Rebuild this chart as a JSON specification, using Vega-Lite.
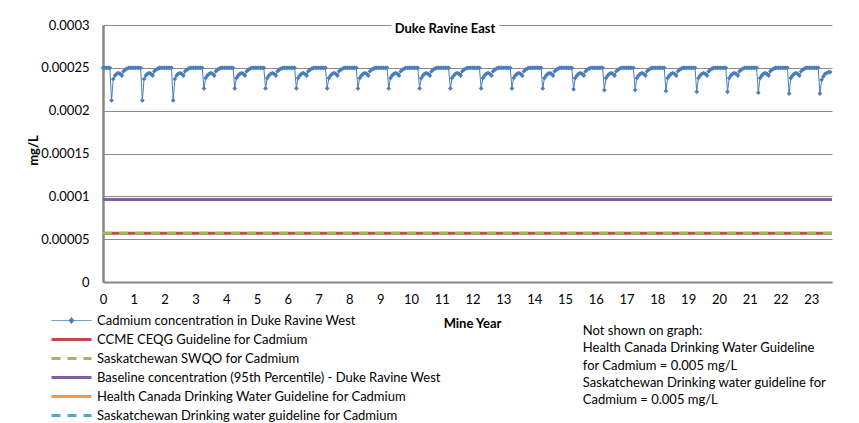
{
  "$schema": "https://vega.github.io/schema/vega-lite/v6.json",
  "width": 729,
  "height": 257,
  "autosize": {"type": "none"},
  "padding": {"left": 103, "top": 25, "right": 27, "bottom": 141},
  "background": "white",
  "title": {"text": "Duke Ravine East", "font": "Lato", "fontSize": 13, "fontWeight": "bold", "color": "#000000", "anchor": "middle", "baseline": "middle", "offset": -23, "dx": -22.5},
  "config": {
    "font": "Lato",
    "view": {"stroke": null},
    "axis": {"labelFont": "Lato", "labelFontSize": 13, "labelColor": "#000000", "titleFont": "Lato", "titleFontSize": 13, "titleColor": "#000000", "titleFontWeight": "bold", "domainColor": "#868686", "ticks": false, "gridColor": "#8c8c8c", "gridWidth": 1, "labelOverlap": false}
  },
  "datasets": {
    "cadmium": [
{"t":0,"v":0.00025},{"t":0.056,"v":0.00025},{"t":0.111,"v":0.00025},{"t":0.167,"v":0.00025},{"t":0.222,"v":0.00025},{"t":0.278,"v":0.000212},{"t":0.333,"v":0.000237},{"t":0.389,"v":0.000241},{"t":0.444,"v":0.000243},{"t":0.5,"v":0.000244},{"t":0.556,"v":0.000243},{"t":0.611,"v":0.000241},{"t":0.667,"v":0.000246},{"t":0.722,"v":0.000248},{"t":0.778,"v":0.000249},{"t":0.833,"v":0.00025},{"t":0.889,"v":0.00025},{"t":0.944,"v":0.00025},
{"t":1,"v":0.00025},{"t":1.056,"v":0.00025},{"t":1.111,"v":0.00025},{"t":1.167,"v":0.00025},{"t":1.222,"v":0.00025},{"t":1.278,"v":0.000212},{"t":1.333,"v":0.000237},{"t":1.389,"v":0.000241},{"t":1.444,"v":0.000243},{"t":1.5,"v":0.000244},{"t":1.556,"v":0.000243},{"t":1.611,"v":0.000241},{"t":1.667,"v":0.000246},{"t":1.722,"v":0.000248},{"t":1.778,"v":0.000249},{"t":1.833,"v":0.00025},{"t":1.889,"v":0.00025},{"t":1.944,"v":0.00025},
{"t":2,"v":0.00025},{"t":2.056,"v":0.00025},{"t":2.111,"v":0.00025},{"t":2.167,"v":0.00025},{"t":2.222,"v":0.00025},{"t":2.278,"v":0.000212},{"t":2.333,"v":0.000237},{"t":2.389,"v":0.000241},{"t":2.444,"v":0.000243},{"t":2.5,"v":0.000244},{"t":2.556,"v":0.000243},{"t":2.611,"v":0.000241},{"t":2.667,"v":0.000246},{"t":2.722,"v":0.000248},{"t":2.778,"v":0.000249},{"t":2.833,"v":0.00025},{"t":2.889,"v":0.00025},{"t":2.944,"v":0.00025},
{"t":3,"v":0.00025},{"t":3.056,"v":0.00025},{"t":3.111,"v":0.00025},{"t":3.167,"v":0.00025},{"t":3.222,"v":0.00025},{"t":3.278,"v":0.000226},{"t":3.333,"v":0.000238},{"t":3.389,"v":0.000241},{"t":3.444,"v":0.000243},{"t":3.5,"v":0.000244},{"t":3.556,"v":0.000243},{"t":3.611,"v":0.000241},{"t":3.667,"v":0.000246},{"t":3.722,"v":0.000248},{"t":3.778,"v":0.000249},{"t":3.833,"v":0.00025},{"t":3.889,"v":0.00025},{"t":3.944,"v":0.00025},
{"t":4,"v":0.00025},{"t":4.056,"v":0.00025},{"t":4.111,"v":0.00025},{"t":4.167,"v":0.00025},{"t":4.222,"v":0.00025},{"t":4.278,"v":0.000226},{"t":4.333,"v":0.000238},{"t":4.389,"v":0.000241},{"t":4.444,"v":0.000243},{"t":4.5,"v":0.000244},{"t":4.556,"v":0.000243},{"t":4.611,"v":0.000241},{"t":4.667,"v":0.000246},{"t":4.722,"v":0.000248},{"t":4.778,"v":0.000249},{"t":4.833,"v":0.00025},{"t":4.889,"v":0.00025},{"t":4.944,"v":0.00025},
{"t":5,"v":0.00025},{"t":5.056,"v":0.00025},{"t":5.111,"v":0.00025},{"t":5.167,"v":0.00025},{"t":5.222,"v":0.00025},{"t":5.278,"v":0.000226},{"t":5.333,"v":0.000238},{"t":5.389,"v":0.000241},{"t":5.444,"v":0.000243},{"t":5.5,"v":0.000244},{"t":5.556,"v":0.000243},{"t":5.611,"v":0.000241},{"t":5.667,"v":0.000246},{"t":5.722,"v":0.000248},{"t":5.778,"v":0.000249},{"t":5.833,"v":0.00025},{"t":5.889,"v":0.00025},{"t":5.944,"v":0.00025},
{"t":6,"v":0.00025},{"t":6.056,"v":0.00025},{"t":6.111,"v":0.00025},{"t":6.167,"v":0.00025},{"t":6.222,"v":0.00025},{"t":6.278,"v":0.000226},{"t":6.333,"v":0.000238},{"t":6.389,"v":0.000241},{"t":6.444,"v":0.000243},{"t":6.5,"v":0.000244},{"t":6.556,"v":0.000243},{"t":6.611,"v":0.000241},{"t":6.667,"v":0.000246},{"t":6.722,"v":0.000248},{"t":6.778,"v":0.000249},{"t":6.833,"v":0.00025},{"t":6.889,"v":0.00025},{"t":6.944,"v":0.00025},
{"t":7,"v":0.00025},{"t":7.056,"v":0.00025},{"t":7.111,"v":0.00025},{"t":7.167,"v":0.00025},{"t":7.222,"v":0.00025},{"t":7.278,"v":0.000226},{"t":7.333,"v":0.000238},{"t":7.389,"v":0.000241},{"t":7.444,"v":0.000243},{"t":7.5,"v":0.000244},{"t":7.556,"v":0.000243},{"t":7.611,"v":0.000241},{"t":7.667,"v":0.000246},{"t":7.722,"v":0.000248},{"t":7.778,"v":0.000249},{"t":7.833,"v":0.00025},{"t":7.889,"v":0.00025},{"t":7.944,"v":0.00025},
{"t":8,"v":0.00025},{"t":8.056,"v":0.00025},{"t":8.111,"v":0.00025},{"t":8.167,"v":0.00025},{"t":8.222,"v":0.00025},{"t":8.278,"v":0.000226},{"t":8.333,"v":0.000238},{"t":8.389,"v":0.000241},{"t":8.444,"v":0.000243},{"t":8.5,"v":0.000244},{"t":8.556,"v":0.000243},{"t":8.611,"v":0.000241},{"t":8.667,"v":0.000246},{"t":8.722,"v":0.000248},{"t":8.778,"v":0.000249},{"t":8.833,"v":0.00025},{"t":8.889,"v":0.00025},{"t":8.944,"v":0.00025},
{"t":9,"v":0.00025},{"t":9.056,"v":0.00025},{"t":9.111,"v":0.00025},{"t":9.167,"v":0.00025},{"t":9.222,"v":0.00025},{"t":9.278,"v":0.000226},{"t":9.333,"v":0.000238},{"t":9.389,"v":0.000241},{"t":9.444,"v":0.000243},{"t":9.5,"v":0.000244},{"t":9.556,"v":0.000243},{"t":9.611,"v":0.000241},{"t":9.667,"v":0.000246},{"t":9.722,"v":0.000248},{"t":9.778,"v":0.000249},{"t":9.833,"v":0.00025},{"t":9.889,"v":0.00025},{"t":9.944,"v":0.00025},
{"t":10,"v":0.00025},{"t":10.056,"v":0.00025},{"t":10.111,"v":0.00025},{"t":10.167,"v":0.00025},{"t":10.222,"v":0.00025},{"t":10.278,"v":0.000226},{"t":10.333,"v":0.000238},{"t":10.389,"v":0.000241},{"t":10.444,"v":0.000243},{"t":10.5,"v":0.000244},{"t":10.556,"v":0.000243},{"t":10.611,"v":0.000241},{"t":10.667,"v":0.000246},{"t":10.722,"v":0.000248},{"t":10.778,"v":0.000249},{"t":10.833,"v":0.00025},{"t":10.889,"v":0.00025},{"t":10.944,"v":0.00025},
{"t":11,"v":0.00025},{"t":11.056,"v":0.00025},{"t":11.111,"v":0.00025},{"t":11.167,"v":0.00025},{"t":11.222,"v":0.00025},{"t":11.278,"v":0.000226},{"t":11.333,"v":0.000238},{"t":11.389,"v":0.000241},{"t":11.444,"v":0.000243},{"t":11.5,"v":0.000244},{"t":11.556,"v":0.000243},{"t":11.611,"v":0.000241},{"t":11.667,"v":0.000246},{"t":11.722,"v":0.000248},{"t":11.778,"v":0.000249},{"t":11.833,"v":0.00025},{"t":11.889,"v":0.00025},{"t":11.944,"v":0.00025},
{"t":12,"v":0.00025},{"t":12.056,"v":0.00025},{"t":12.111,"v":0.00025},{"t":12.167,"v":0.00025},{"t":12.222,"v":0.00025},{"t":12.278,"v":0.000226},{"t":12.333,"v":0.000238},{"t":12.389,"v":0.000241},{"t":12.444,"v":0.000243},{"t":12.5,"v":0.000244},{"t":12.556,"v":0.000243},{"t":12.611,"v":0.000241},{"t":12.667,"v":0.000246},{"t":12.722,"v":0.000248},{"t":12.778,"v":0.000249},{"t":12.833,"v":0.00025},{"t":12.889,"v":0.00025},{"t":12.944,"v":0.00025},
{"t":13,"v":0.00025},{"t":13.056,"v":0.00025},{"t":13.111,"v":0.00025},{"t":13.167,"v":0.00025},{"t":13.222,"v":0.00025},{"t":13.278,"v":0.000226},{"t":13.333,"v":0.000238},{"t":13.389,"v":0.000241},{"t":13.444,"v":0.000243},{"t":13.5,"v":0.000244},{"t":13.556,"v":0.000243},{"t":13.611,"v":0.000241},{"t":13.667,"v":0.000246},{"t":13.722,"v":0.000248},{"t":13.778,"v":0.000249},{"t":13.833,"v":0.00025},{"t":13.889,"v":0.00025},{"t":13.944,"v":0.00025},
{"t":14,"v":0.00025},{"t":14.056,"v":0.00025},{"t":14.111,"v":0.00025},{"t":14.167,"v":0.00025},{"t":14.222,"v":0.00025},{"t":14.278,"v":0.000226},{"t":14.333,"v":0.000238},{"t":14.389,"v":0.000241},{"t":14.444,"v":0.000243},{"t":14.5,"v":0.000244},{"t":14.556,"v":0.000243},{"t":14.611,"v":0.000241},{"t":14.667,"v":0.000246},{"t":14.722,"v":0.000248},{"t":14.778,"v":0.000249},{"t":14.833,"v":0.00025},{"t":14.889,"v":0.00025},{"t":14.944,"v":0.00025},
{"t":15,"v":0.00025},{"t":15.056,"v":0.00025},{"t":15.111,"v":0.00025},{"t":15.167,"v":0.00025},{"t":15.222,"v":0.00025},{"t":15.278,"v":0.000225},{"t":15.333,"v":0.000238},{"t":15.389,"v":0.000241},{"t":15.444,"v":0.000243},{"t":15.5,"v":0.000244},{"t":15.556,"v":0.000243},{"t":15.611,"v":0.000241},{"t":15.667,"v":0.000246},{"t":15.722,"v":0.000248},{"t":15.778,"v":0.000249},{"t":15.833,"v":0.00025},{"t":15.889,"v":0.00025},{"t":15.944,"v":0.00025},
{"t":16,"v":0.00025},{"t":16.056,"v":0.00025},{"t":16.111,"v":0.00025},{"t":16.167,"v":0.00025},{"t":16.222,"v":0.00025},{"t":16.278,"v":0.000224},{"t":16.333,"v":0.000238},{"t":16.389,"v":0.000241},{"t":16.444,"v":0.000243},{"t":16.5,"v":0.000244},{"t":16.556,"v":0.000243},{"t":16.611,"v":0.000241},{"t":16.667,"v":0.000246},{"t":16.722,"v":0.000248},{"t":16.778,"v":0.000249},{"t":16.833,"v":0.00025},{"t":16.889,"v":0.00025},{"t":16.944,"v":0.00025},
{"t":17,"v":0.00025},{"t":17.056,"v":0.00025},{"t":17.111,"v":0.00025},{"t":17.167,"v":0.00025},{"t":17.222,"v":0.00025},{"t":17.278,"v":0.000224},{"t":17.333,"v":0.000238},{"t":17.389,"v":0.000241},{"t":17.444,"v":0.000243},{"t":17.5,"v":0.000244},{"t":17.556,"v":0.000243},{"t":17.611,"v":0.000241},{"t":17.667,"v":0.000246},{"t":17.722,"v":0.000248},{"t":17.778,"v":0.000249},{"t":17.833,"v":0.00025},{"t":17.889,"v":0.00025},{"t":17.944,"v":0.00025},
{"t":18,"v":0.00025},{"t":18.056,"v":0.00025},{"t":18.111,"v":0.00025},{"t":18.167,"v":0.00025},{"t":18.222,"v":0.00025},{"t":18.278,"v":0.000223},{"t":18.333,"v":0.000238},{"t":18.389,"v":0.000241},{"t":18.444,"v":0.000243},{"t":18.5,"v":0.000244},{"t":18.556,"v":0.000243},{"t":18.611,"v":0.000241},{"t":18.667,"v":0.000246},{"t":18.722,"v":0.000248},{"t":18.778,"v":0.000249},{"t":18.833,"v":0.00025},{"t":18.889,"v":0.00025},{"t":18.944,"v":0.00025},
{"t":19,"v":0.00025},{"t":19.056,"v":0.00025},{"t":19.111,"v":0.00025},{"t":19.167,"v":0.00025},{"t":19.222,"v":0.00025},{"t":19.278,"v":0.000222},{"t":19.333,"v":0.000238},{"t":19.389,"v":0.000241},{"t":19.444,"v":0.000243},{"t":19.5,"v":0.000244},{"t":19.556,"v":0.000243},{"t":19.611,"v":0.000241},{"t":19.667,"v":0.000246},{"t":19.722,"v":0.000248},{"t":19.778,"v":0.000249},{"t":19.833,"v":0.00025},{"t":19.889,"v":0.00025},{"t":19.944,"v":0.00025},
{"t":20,"v":0.00025},{"t":20.056,"v":0.00025},{"t":20.111,"v":0.00025},{"t":20.167,"v":0.00025},{"t":20.222,"v":0.00025},{"t":20.278,"v":0.000222},{"t":20.333,"v":0.000238},{"t":20.389,"v":0.000241},{"t":20.444,"v":0.000243},{"t":20.5,"v":0.000244},{"t":20.556,"v":0.000243},{"t":20.611,"v":0.000241},{"t":20.667,"v":0.000246},{"t":20.722,"v":0.000248},{"t":20.778,"v":0.000249},{"t":20.833,"v":0.00025},{"t":20.889,"v":0.00025},{"t":20.944,"v":0.00025},
{"t":21,"v":0.00025},{"t":21.056,"v":0.00025},{"t":21.111,"v":0.00025},{"t":21.167,"v":0.00025},{"t":21.222,"v":0.00025},{"t":21.278,"v":0.000221},{"t":21.333,"v":0.000238},{"t":21.389,"v":0.000241},{"t":21.444,"v":0.000243},{"t":21.5,"v":0.000244},{"t":21.556,"v":0.000243},{"t":21.611,"v":0.000241},{"t":21.667,"v":0.000246},{"t":21.722,"v":0.000248},{"t":21.778,"v":0.000249},{"t":21.833,"v":0.00025},{"t":21.889,"v":0.00025},{"t":21.944,"v":0.00025},
{"t":22,"v":0.00025},{"t":22.056,"v":0.00025},{"t":22.111,"v":0.00025},{"t":22.167,"v":0.00025},{"t":22.222,"v":0.00025},{"t":22.278,"v":0.00022},{"t":22.333,"v":0.000238},{"t":22.389,"v":0.000241},{"t":22.444,"v":0.000243},{"t":22.5,"v":0.000244},{"t":22.556,"v":0.000243},{"t":22.611,"v":0.000241},{"t":22.667,"v":0.000246},{"t":22.722,"v":0.000248},{"t":22.778,"v":0.000249},{"t":22.833,"v":0.00025},{"t":22.889,"v":0.00025},{"t":22.944,"v":0.00025},
{"t":23,"v":0.00025},{"t":23.056,"v":0.00025},{"t":23.111,"v":0.00025},{"t":23.167,"v":0.00025},{"t":23.222,"v":0.00025},{"t":23.278,"v":0.00022},{"t":23.333,"v":0.000236},{"t":23.389,"v":0.00024},{"t":23.444,"v":0.000243},{"t":23.5,"v":0.000244},{"t":23.556,"v":0.000245},{"t":23.611,"v":0.000245}
    ],
    "guides": [
      {"series": "CCME CEQG Guideline for Cadmium", "t": 0, "v": 0.000057},
      {"series": "CCME CEQG Guideline for Cadmium", "t": 23.67, "v": 0.000057},
      {"series": "Saskatchewan SWQO for Cadmium", "t": 0, "v": 0.000057},
      {"series": "Saskatchewan SWQO for Cadmium", "t": 23.67, "v": 0.000057},
      {"series": "Baseline concentration (95th Percentile) - Duke Ravine West", "t": 0, "v": 0.0000963},
      {"series": "Baseline concentration (95th Percentile) - Duke Ravine West", "t": 23.67, "v": 0.0000963}
    ],
    "heading": [
      {"label": "Duke Ravine East"}
    ],
    "note": [
      {"line": "Not shown on graph:", "pos": -0.0000572},
      {"line": "Health Canada Drinking Water Guideline", "pos": -0.0000776},
      {"line": "for Cadmium  = 0.005 mg/L", "pos": -0.0000975},
      {"line": "Saskatchewan Drinking water guideline for", "pos": -0.0001179},
      {"line": "Cadmium = 0.005 mg/L", "pos": -0.0001377}
    ]
  },
  "layer": [
    {
      "data": {"name": "guides"},
      "mark": {"type": "line", "strokeWidth": 3},
      "encoding": {
        "x": {"field": "t", "type": "quantitative", "title": "Mine Year",
          "scale": {"domain": [0, 23.67], "nice": false, "zero": false},
          "axis": {"values": [0,1,2,3,4,5,6,7,8,9,10,11,12,13,14,15,16,17,18,19,20,21,22,23], "labelOverlap": false, "grid": false, "domainWidth": 2, "labelPadding": 11, "labelAlign": "center", "titleX": 369, "titleY": 41, "titleBaseline": "middle", "titleAlign": "center"}},
        "y": {"field": "v", "type": "quantitative", "title": "mg/L",
          "scale": {"domain": [0, 0.0003], "nice": false, "zero": true},
          "axis": {"values": [0, 0.00005, 0.0001, 0.00015, 0.0002, 0.00025, 0.0003], "labelOverlap": false, "labelExpr": "datum.value == 0 ? '0' : format(datum.value, '.5~f')", "domainWidth": 2.5, "labelPadding": 14, "titleAngle": -90, "titleX": -70, "titleY": 125, "titleAlign": "center", "titleBaseline": "middle"}},
        "color": {"field": "series", "type": "nominal",
          "scale": {"domain": ["Cadmium concentration in Duke Ravine West", "CCME CEQG Guideline for Cadmium", "Saskatchewan SWQO for Cadmium", "Baseline concentration (95th Percentile) - Duke Ravine West", "Health Canada Drinking Water Guideline for Cadmium", "Saskatchewan Drinking water guideline for Cadmium"],
            "range": ["#4A7EBB", "#BE4B48", "#9BBB59", "#7F5FA0", "#F79646", "#4BACC6"]},
          "legend": {"title": null, "orient": "none", "legendX": -38, "legendY": 289, "symbolType": "stroke", "symbolSize": 1600, "symbolStrokeWidth": 3, "labelFont": "Lato", "labelFontSize": 13, "labelColor": "#000000", "labelOffset": 19, "rowPadding": 5, "labelLimit": 600, "padding": 0,
            "encode": {"symbols": {"update": {
              "strokeWidth": {"signal": "datum.value === 'Cadmium concentration in Duke Ravine West' ? 1 : 3"},
              "shape": {"signal": "datum.value === 'Cadmium concentration in Duke Ravine West' ? 'M-1,0H1M-0.12,0L0,-0.15L0.12,0L0,0.15Z' : 'stroke'"},
              "fill": {"signal": "datum.value === 'Cadmium concentration in Duke Ravine West' ? '#4A7EBB' : 'transparent'"}
            }}}}},
        "strokeDash": {"field": "series", "type": "nominal",
          "scale": {"domain": ["Cadmium concentration in Duke Ravine West", "CCME CEQG Guideline for Cadmium", "Saskatchewan SWQO for Cadmium", "Baseline concentration (95th Percentile) - Duke Ravine West", "Health Canada Drinking Water Guideline for Cadmium", "Saskatchewan Drinking water guideline for Cadmium"],
            "range": [[1, 0], [1, 0], [9, 7], [1, 0], [1, 0], [9, 7]]},
          "legend": {"title": null, "orient": "none", "legendX": -38, "legendY": 289}}
      }
    },
    {
      "data": {"name": "cadmium"},
      "mark": {"type": "line", "strokeWidth": 1, "color": "#4A7EBB", "point": {"shape": "diamond", "size": 22, "filled": true, "color": "#4A7EBB"}},
      "encoding": {
        "x": {"field": "t", "type": "quantitative", "title": "Mine Year",
          "axis": {"values": [0,1,2,3,4,5,6,7,8,9,10,11,12,13,14,15,16,17,18,19,20,21,22,23], "labelOverlap": false, "grid": false, "domainWidth": 2, "labelPadding": 11, "labelAlign": "center", "titleX": 369, "titleY": 41, "titleBaseline": "middle", "titleAlign": "center"}},
        "y": {"field": "v", "type": "quantitative", "title": "mg/L",
          "axis": {"values": [0, 0.00005, 0.0001, 0.00015, 0.0002, 0.00025, 0.0003], "labelOverlap": false, "labelExpr": "datum.value == 0 ? '0' : format(datum.value, '.5~f')", "domainWidth": 2.5, "labelPadding": 14, "titleAngle": -90, "titleX": -70, "titleY": 125, "titleAlign": "center", "titleBaseline": "middle"}}
      }
    },
    {
      "data": {"name": "heading"},
      "mark": {"type": "text", "font": "Lato", "fontSize": 13, "fontWeight": "bold", "align": "center", "baseline": "middle", "dy": 3, "color": "white", "stroke": "white", "strokeWidth": 8},
      "encoding": {
        "x": {"datum": 11.1, "type": "quantitative", "title": "Mine Year",
          "axis": {"values": [0,1,2,3,4,5,6,7,8,9,10,11,12,13,14,15,16,17,18,19,20,21,22,23], "labelOverlap": false, "grid": false, "domainWidth": 2, "labelPadding": 11, "labelAlign": "center", "titleX": 369, "titleY": 41, "titleBaseline": "middle", "titleAlign": "center"}},
        "y": {"datum": 0.0003, "type": "quantitative", "title": "mg/L",
          "axis": {"values": [0, 0.00005, 0.0001, 0.00015, 0.0002, 0.00025, 0.0003], "labelOverlap": false, "labelExpr": "datum.value == 0 ? '0' : format(datum.value, '.5~f')", "domainWidth": 2.5, "labelPadding": 14, "titleAngle": -90, "titleX": -70, "titleY": 125, "titleAlign": "center", "titleBaseline": "middle"}},
        "text": {"field": "label", "type": "nominal"}}
    },
    {
      "data": {"name": "note"},
      "mark": {"type": "text", "font": "Lato", "fontSize": 13, "align": "left", "baseline": "middle", "color": "#000000"},
      "encoding": {
        "x": {"datum": 15.58, "type": "quantitative", "title": "Mine Year",
          "axis": {"values": [0,1,2,3,4,5,6,7,8,9,10,11,12,13,14,15,16,17,18,19,20,21,22,23], "labelOverlap": false, "grid": false, "domainWidth": 2, "labelPadding": 11, "labelAlign": "center", "titleX": 369, "titleY": 41, "titleBaseline": "middle", "titleAlign": "center"}},
        "y": {"field": "pos", "type": "quantitative", "title": "mg/L",
          "axis": {"values": [0, 0.00005, 0.0001, 0.00015, 0.0002, 0.00025, 0.0003], "labelOverlap": false, "labelExpr": "datum.value == 0 ? '0' : format(datum.value, '.5~f')", "domainWidth": 2.5, "labelPadding": 14, "titleAngle": -90, "titleX": -70, "titleY": 125, "titleAlign": "center", "titleBaseline": "middle"}},
        "text": {"field": "line", "type": "nominal"}}
    }
  ]
}
